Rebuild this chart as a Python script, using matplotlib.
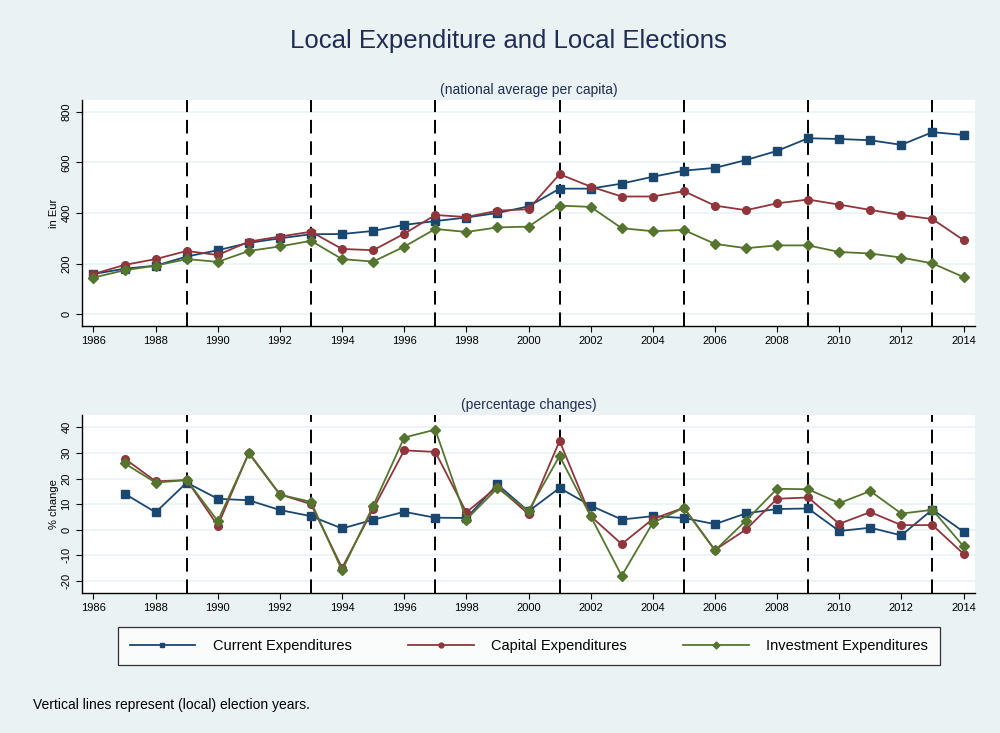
import matplotlib
matplotlib.use("Agg")
import matplotlib.pyplot as plt
import numpy as np

years = list(range(1986, 2015))
current = [159, 180, 192, 228, 253, 282, 300, 316, 317, 329, 353, 368, 382, 400, 426,
           496, 496, 516, 543, 567, 578, 609, 645, 695, 692, 687, 669, 719, 708]
capital = [159, 195, 218, 250, 234, 287, 307, 326, 258, 253, 318, 392, 384, 409, 415,
           553, 504, 465, 465, 486, 429, 411, 438, 453, 433, 412, 392, 376, 293]
invest = [145, 174, 192, 218, 207, 250, 268, 290, 218, 208, 267, 337, 325, 343, 346,
          429, 424, 340, 328, 333, 278, 261, 272, 272, 246, 240, 224, 201, 147]

years_pc = list(range(1987, 2015))
current_pc = [14.1, 6.8, 18.4, 12.1, 11.5, 7.7, 5.3, 0.5, 3.9, 7.0, 4.7, 4.6, 17.7, 7.2,
              16.3, 9.4, 4.0, 5.3, 4.6, 2.2, 6.4, 8.1, 8.3, -0.5, 0.8, -2.2, 7.9, -0.8]
capital_pc = [27.8, 18.9, 19.4, 1.6, 30.1, 13.8, 10.0, -14.9, 8.1, 31.0, 30.4, 6.8, 16.8, 6.1,
              34.7, 5.3, -5.6, 4.2, 8.6, -7.9, 0.1, 12.1, 12.6, 2.3, 6.9, 1.8, 1.8, -9.4]
invest_pc = [25.9, 18.4, 19.4, 3.4, 29.8, 13.7, 10.9, -15.9, 9.3, 36.0, 39.1, 4.0, 16.2, 7.4,
             28.8, 5.3, -18.0, 2.7, 8.6, -8.1, 3.6, 16.0, 15.8, 10.4, 15.1, 6.3, 7.8, -6.5]

election_years = [1989, 1993, 1997, 2001, 2005, 2009, 2013]
xticks = list(range(1986, 2015, 2))
yticks_top = [0, 200, 400, 600, 800]
yticks_bot = [-20, -10, 0, 10, 20, 30, 40]

series_names = ["Current Expenditures", "Capital Expenditures", "Investment Expenditures"]
colors = ["#1A476F", "#90353B", "#55752F"]
markers = ["s", "o", "D"]
msizes = [5.5, 5.5, 5.0]

plt.rcParams['font.family'] = ['Liberation Sans', 'DejaVu Sans']

BG = "#EAF2F3"
TITLE_C = "#1F2D55"
fig = plt.figure(figsize=(10, 7.33), dpi=100, facecolor=BG)

ax1 = fig.add_axes([0.082, 0.5553, 0.893, 0.3083])
ax2 = fig.add_axes([0.082, 0.191, 0.893, 0.2428])

def style(ax, yticks, ylim, ylabel):
    ax.set_facecolor("white")
    ax.set_xlim(1985.63, 2014.37)
    ax.set_ylim(*ylim)
    ax.set_xticks(xticks)
    ax.set_yticks(yticks)
    ax.set_yticklabels([str(v) for v in yticks], rotation=90, va='center')
    ax.tick_params(axis='both', labelsize=8, length=4, width=0.8, color='black')
    for s in ['top', 'right']:
        ax.spines[s].set_visible(False)
    for s in ['left', 'bottom']:
        ax.spines[s].set_linewidth(1.0)
        ax.spines[s].set_color('black')
    ax.yaxis.grid(True, color=BG, linewidth=1.2)
    ax.set_axisbelow(True)
    ax.set_ylabel(ylabel, fontsize=8, labelpad=2)
    for ey in election_years:
        ax.axvline(ey, color='black', linestyle=(0, (7, 4)), linewidth=1.4, zorder=1)

style(ax1, yticks_top, (-46, 846), "in Eur")
style(ax2, yticks_bot, (-24.7, 44.8), "% change")

for vals, c, m, ms, name in zip([current, capital, invest], colors, markers, msizes, series_names):
    ax1.plot(years, vals, color=c, marker=m, markersize=ms, linewidth=1.3, label=name, zorder=3)
for vals, c, m, ms in zip([current_pc, capital_pc, invest_pc], colors, markers, msizes):
    ax2.plot(years_pc, vals, color=c, marker=m, markersize=ms, linewidth=1.3, zorder=3)

ax1.set_title("(national average per capita)", fontsize=10, color=TITLE_C, pad=4)
ax2.set_title("(percentage changes)", fontsize=10, color=TITLE_C, pad=4)

fig.text(0.508, 0.944, "Local Expenditure and Local Elections", fontsize=18.5,
         color=TITLE_C, ha='center', va='center')

leg_handles = []
for c, m, name in zip(colors, markers, series_names):
    h, = ax1.plot([], [], color=c, marker=m, markersize=3.5, linewidth=1.3, label=name)
    leg_handles.append(h)
leg = fig.legend(handles=leg_handles, loc='center', ncol=3,
                 bbox_to_anchor=(0.118, 1 - 665/733, 0.822, 38/733), mode='expand',
                 borderaxespad=0.0,
                 fontsize=10.5, frameon=True, fancybox=False, edgecolor='black',
                 handlelength=4.5, handletextpad=1.2, borderpad=0.8, columnspacing=2.0)
leg.get_frame().set_linewidth(0.9)
leg.get_frame().set_facecolor('white')

fig.text(0.033, 1 - 705/733, "Vertical lines represent (local) election years.",
         fontsize=10, ha='left', va='center')

fig.savefig("out.png", dpi=100, facecolor=BG)
